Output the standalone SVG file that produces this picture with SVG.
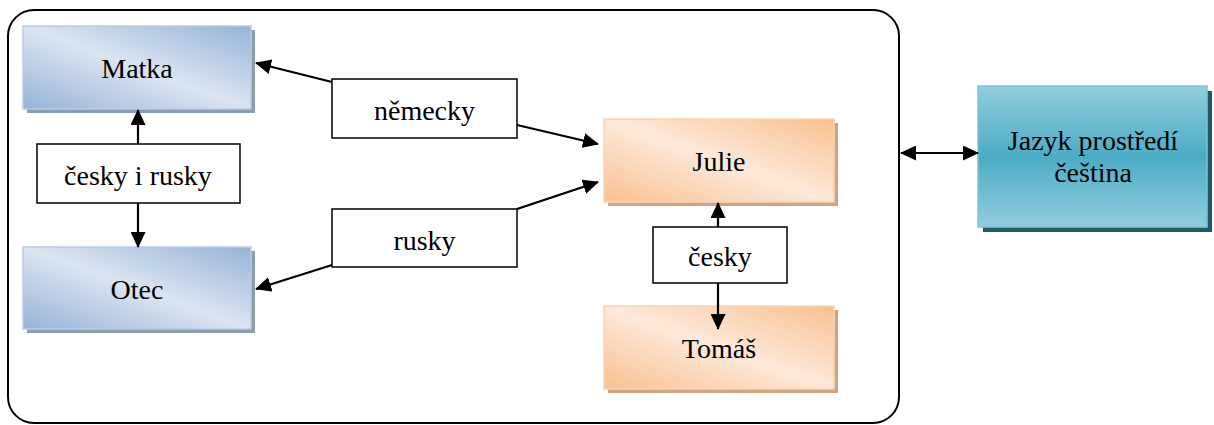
<svg xmlns="http://www.w3.org/2000/svg" width="1214" height="425" viewBox="0 0 1214 425">
  <defs>
    <linearGradient id="gBlue" x1="0" y1="1" x2="1" y2="0">
      <stop offset="0" stop-color="#95b3d7"/>
      <stop offset="0.5" stop-color="#dbe5f1"/>
      <stop offset="1" stop-color="#95b3d7"/>
    </linearGradient>
    <linearGradient id="gOrange" x1="0" y1="1" x2="1" y2="0">
      <stop offset="0" stop-color="#fac090"/>
      <stop offset="0.5" stop-color="#fde9d9"/>
      <stop offset="1" stop-color="#fac090"/>
    </linearGradient>
    <linearGradient id="gTeal" x1="0" y1="0" x2="0" y2="1">
      <stop offset="0" stop-color="#92cddc"/>
      <stop offset="0.5" stop-color="#4bacc6"/>
      <stop offset="1" stop-color="#92cddc"/>
    </linearGradient>
    <marker id="ah" markerUnits="userSpaceOnUse" markerWidth="16" markerHeight="15" viewBox="0 0 16 15" refX="15" refY="7.5" orient="auto-start-reverse">
      <path d="M0,0 L16,7.5 L0,15 z" fill="#000"/>
    </marker>
  </defs>
  <style>
    .frame { fill: none; stroke: #000; stroke-width: 2; }
    .lbl { fill: #fff; stroke: #000; stroke-width: 1.5; }
    .blue { fill: url(#gBlue); stroke: #b8cce4; stroke-width: 1.5; }
    .blueSh { fill: #8c9db2; }
    .orange { fill: url(#gOrange); stroke: #fbd4b4; stroke-width: 1.5; }
    .orangeSh { fill: #d0a584; }
    .teal { fill: url(#gTeal); stroke: #7cc3d6; stroke-width: 1.5; }
    .tealSh { fill: #215967; }
    .conn { fill: none; stroke: #000; stroke-width: 2.2; marker-end: url(#ah); }
  </style>

  <rect id="frame" class="frame" x="8" y="10" width="891" height="413" rx="26" ry="26"/>

  <g font-family="Liberation Serif" font-size="28" text-anchor="middle" fill="#000">
  <g id="matka">
    <rect class="blueSh" x="27" y="30" width="228" height="83"/>
    <rect class="blue" x="23" y="26" width="228" height="83"/>
    <text x="137" y="78" style="font-family:'Liberation Serif'">Matka</text>
  </g>
  <g id="otec">
    <rect class="blueSh" x="27" y="251" width="228" height="82"/>
    <rect class="blue" x="23" y="247" width="228" height="82"/>
    <text x="137" y="299" style="font-family:'Liberation Serif'">Otec</text>
  </g>
  <g id="julie">
    <rect class="orangeSh" x="608" y="123" width="230" height="83"/>
    <rect class="orange" x="604" y="119" width="230" height="83"/>
    <text x="719" y="171" style="font-family:'Liberation Serif'">Julie</text>
  </g>
  <g id="tomas">
    <rect class="orangeSh" x="608" y="310" width="230" height="83"/>
    <rect class="orange" x="604" y="306" width="230" height="83"/>
    <text x="719" y="358" style="font-family:'Liberation Serif'">Tomáš</text>
  </g>
  <g id="jazyk">
    <rect class="tealSh" x="983" y="91" width="229" height="141"/>
    <rect class="teal" x="978" y="86" width="229" height="141"/>
    <text x="1093" y="150" style="font-family:'Liberation Serif'">Jazyk prostředí</text>
    <text x="1093" y="182" style="font-family:'Liberation Serif'">čeština</text>
  </g>

  <g id="connectors">
    <line class="conn" x1="138" y1="144" x2="138" y2="110"/>
    <line class="conn" x1="138" y1="203" x2="138" y2="247"/>
    <line class="conn" x1="332" y1="82" x2="256" y2="63"/>
    <line class="conn" x1="517" y1="125" x2="598" y2="144"/>
    <line class="conn" x1="517" y1="209" x2="598" y2="182"/>
    <line class="conn" x1="332" y1="265" x2="256" y2="289"/>
    <line class="conn" x1="718" y1="227" x2="718" y2="203"/>
    <line class="conn" x1="718" y1="283" x2="718" y2="329"/>
    <line class="conn" x1="901" y1="153" x2="978" y2="153" style="marker-start:url(#ah)"/>
  </g>

  <g id="lbl-cesky-i-rusky">
    <rect class="lbl" x="37" y="144" width="203" height="59"/>
    <text x="138" y="185" style="font-family:'Liberation Serif'">česky i rusky</text>
  </g>
  <g id="lbl-nemecky">
    <rect class="lbl" x="332" y="79" width="185" height="59"/>
    <text x="424.5" y="120" style="font-family:'Liberation Serif'">německy</text>
  </g>
  <g id="lbl-rusky">
    <rect class="lbl" x="332" y="209" width="185" height="58"/>
    <text x="424.5" y="250" style="font-family:'Liberation Serif'">rusky</text>
  </g>
  <g id="lbl-cesky">
    <rect class="lbl" x="653" y="227" width="134" height="56"/>
    <text x="720" y="266" style="font-family:'Liberation Serif'">česky</text>
  </g>
  </g>
</svg>
